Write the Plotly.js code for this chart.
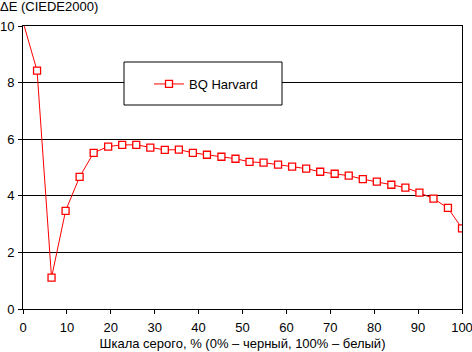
<!DOCTYPE html>
<html>
<head>
<meta charset="utf-8">
<script src="https://cdn.plot.ly/plotly-3.0.1.min.js"></script>
<style>html,body{margin:0;padding:0;background:#fff}#chart{width:472px;height:352px}</style>
</head>
<body>
<div id="chart"></div>
<script>
const seriesName = 'BQ Harvard';
const grayLevels = [0, 3.2, 6.5, 9.7, 12.9, 16.1, 19.4, 22.6, 25.8, 29.0, 32.3, 35.5, 38.7, 41.9, 45.2, 48.4,
  51.6, 54.8, 58.1, 61.3, 64.5, 67.7, 71.0, 74.2, 77.4, 80.6, 83.9, 87.1, 90.3, 93.5, 96.8, 100];
const deltaE = [10.15, 8.42, 1.11, 3.47, 4.67, 5.52, 5.74, 5.80, 5.80, 5.70, 5.62, 5.63, 5.52, 5.45, 5.38, 5.31,
  5.20, 5.17, 5.10, 5.03, 4.96, 4.85, 4.78, 4.71, 4.59, 4.50, 4.39, 4.29, 4.11, 3.90, 3.57, 2.85];
const xTicks = [0, 10, 20, 30, 40, 50, 60, 70, 80, 90, 100];
const yTicks = [0, 2, 4, 6, 8, 10];
const yTitle = 'ΔE (CIEDE2000)';
const xTitle = 'Шкала серого, % (0% – черный, 100% – белый)';

const font = {family: 'Arial, "Liberation Sans", sans-serif', size: 13, color: '#000'};

const trace = {
  x: grayLevels, y: deltaE, name: seriesName, type: 'scatter', mode: 'lines+markers',
  line: {color: '#ff0000', width: 1},
  marker: {symbol: 'square', size: 7, color: '#ffffff', line: {color: '#ff0000', width: 1.3}}
};

const layout = {
  width: 472, height: 352,
  margin: {l: 23, r: 10, t: 26, b: 43, pad: 0},
  paper_bgcolor: '#fff', plot_bgcolor: '#fff',
  font: font,
  showlegend: true,
  title: {text: yTitle, x: 0, xref: 'container', xanchor: 'left', y: 1 - 6/352, yref: 'container', yanchor: 'middle', font: font},
  xaxis: {
    range: [0, 100], tickvals: xTicks, ticktext: xTicks.map(String),
    showgrid: false, zeroline: false, showline: true, linecolor: '#000', linewidth: 1, mirror: true,
    ticks: 'outside', ticklen: 4, tickcolor: '#000', tickfont: font,
    ticklabeloverflow: 'allow', ticklabelstandoff: 2,
    title: {text: xTitle, font: font, standoff: 5}
  },
  yaxis: {
    range: [0, 10], tickvals: yTicks, ticktext: yTicks.map(String),
    showgrid: true, gridcolor: '#000', gridwidth: 1, zeroline: false,
    showline: true, linecolor: '#000', linewidth: 1, mirror: true,
    ticks: 'outside', ticklen: 4, tickcolor: '#000', tickfont: font,
    ticklabeloverflow: 'allow', ticklabelstandoff: 1
  },
  legend: {
    x: (149 - 23) / 439, y: 1 - (84 - 26) / 283, xanchor: 'left', yanchor: 'middle',
    bgcolor: 'rgba(0,0,0,0)', borderwidth: 0, font: font
  },
  shapes: [{
    type: 'rect', xref: 'paper', yref: 'paper', layer: 'above',
    x0: (124 - 23) / 439, x1: (282 - 23) / 439,
    y0: 1 - (105 - 26) / 283, y1: 1 - (62 - 26) / 283,
    fillcolor: '#ffffff', line: {color: '#000', width: 1}
  }]
};

Plotly.newPlot('chart', [trace], layout, {staticPlot: true, displayModeBar: false});
</script>
</body>
</html>
